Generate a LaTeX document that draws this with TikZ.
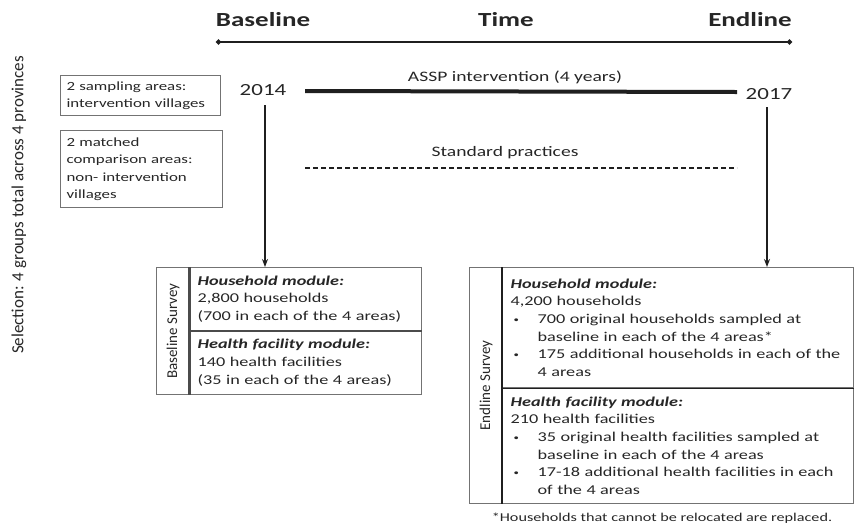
\documentclass[tikz,border=0pt]{standalone}
\usepackage{fontspec}
\setmainfont{Carlito}[FakeStretch=1.35]
\newfontfamily\rotfont{Carlito}
\usetikzlibrary{arrows.meta,calc}
\definecolor{txt}{gray}{0.15}
\definecolor{boxcol}{gray}{0.45}
\definecolor{linecol}{gray}{0.12}
\newcommand\bul{\makebox[27pt][l]{\hspace{3pt}\raisebox{1pt}{\fontsize{8}{8}\selectfont\textbullet}}}
\newcommand\ind{\hspace*{27pt}}
\begin{document}
\begin{tikzpicture}[x=1pt,y=-1pt,
  hdr/.style={font=\fontsize{20}{22}\selectfont\bfseries, text=txt},
  yearlab/.style={font=\fontsize{17}{19}\selectfont, text=txt},
  midlab/.style={font=\fontsize{14.5}{17}\selectfont, text=txt},
  areabox/.style={draw=boxcol, line width=1.2pt, anchor=north west, align=left,
    inner xsep=6pt, inner ysep=0pt, text width=#1, font=\fontsize{12.5}{17.5}\selectfont, text=txt},
  survlab/.style={draw=boxcol, line width=1.2pt, inner sep=0pt, minimum width=#1},
  survtxt/.style={rotate=90, font=\rotfont\fontsize{15}{17}\selectfont, text=txt},
  content/.style={draw=boxcol, line width=1.2pt, anchor=north west, align=left,
    inner xsep=8pt, inner ysep=0pt, font=\fontsize{13.5}{17.7}\selectfont, text=txt},
  arr/.style={-{Stealth[length=8pt,width=6pt]}, line width=1.6pt, draw=linecol},
  tline/.style={{Circle[length=5pt]}-{Circle[length=5pt]}, line width=2pt, draw=linecol}
]
\useasboundingbox (0,0) rectangle (856,531);

% headers and timeline
\node[hdr] (bl) at (263,20) {Baseline};
\node[hdr] (tm) at (506,20) {Time};
\node[hdr] (el) at (750,20) {Endline};
\coordinate (tl) at (216,42);
\coordinate (tr) at (792,42);
\draw[tline] (tl) -- (tr);

% rotated selection label
\node[rotate=90, font=\rotfont\fontsize{17}{19}\selectfont, text=txt] (sel) at (19,205)
  {Selection: 4 groups total across 4 provinces};

% area boxes
\node[areabox=148pt, minimum height=40pt] (a1) at (60,75)
  {2 sampling areas:\\intervention villages};
\node[areabox=150pt, minimum height=77pt] (a2) at (60,130)
  {2 matched\\comparison areas:\\non- intervention\\villages};

% years and intervention lines
\node[yearlab] (y14) at (263,90) {2014};
\node[yearlab] (y17) at (769,94) {2017};
\coordinate (ia) at (305,91);
\coordinate (ib) at (737,92);
\draw[line width=4pt, draw=linecol] (ia) -- (ib);
\node[midlab] (assp) at (515,77) {ASSP intervention (4 years)};
\node[midlab] (std) at (505,153) {Standard practices};
\coordinate (sa) at (305,168);
\coordinate (sb) at (737,168);
\draw[line width=1.6pt, draw=linecol, dash pattern=on 5pt off 3pt] (sa) -- (sb);

% baseline survey box
\node[survlab=33pt, minimum height=127pt, anchor=north west] (blab) at (156,267) {};
\node[survtxt] (bltxt) at (blab.center) {Baseline Survey};
\node[content, text width=216pt, minimum height=63pt] (bhh) at (189,267)
  {\textbf{\textit{Household module:}}\\2,800 households\\(700 in each of the 4 areas)};
\node[content, text width=216pt, minimum height=64pt] (bhf) at (189,330)
  {\textbf{\textit{Health facility module:}}\\140 health facilities\\(35 in each of the 4 areas)};
\draw[line width=3pt, draw=linecol!80] (bhh.north west) -- (bhf.south west);
\draw[line width=2.5pt, draw=linecol!80] (bhh.south west) -- (bhh.south east);

% endline survey box
\node[survlab=33pt, minimum height=236pt, anchor=north west] (elab) at (469,267) {};
\node[survtxt] (eltxt) at (elab.center) {Endline Survey};
\node[content, text width=335pt, minimum height=120pt] (ehh) at (502,267)
  {\textbf{\textit{Household module:}}\\4,200 households\\
   \bul 700 original households sampled at\\\ind baseline in each of the 4 areas*\\
   \bul 175 additional households in each of the\\\ind 4 areas};
\node[content, text width=335pt, minimum height=116pt] (ehf) at (502,387)
  {\textbf{\textit{Health facility module:}}\\210 health facilities\\
   \bul 35 original health facilities sampled at\\\ind baseline in each of the 4 areas\\
   \bul 17-18 additional health facilities in each\\\ind of the 4 areas};
\draw[line width=2pt, draw=linecol] (ehh.north west) -- (ehf.south west);
\draw[line width=1.4pt, draw=linecol] (ehh.south west) -- (ehh.south east);

% arrows
\draw[arr] ([xshift=2pt,yshift=-6pt]y14.south) -- ([xshift=2pt]y14.south |- bhh.north);
\draw[arr] ([xshift=-2pt,yshift=-4pt]y17.south) -- ([xshift=-2pt]y17.south |- ehh.north);

% footnote
\node[font=\fontsize{12}{14}\selectfont, text=txt] (fn) at (662,518)
  {*Households that cannot be relocated are replaced.};
\end{tikzpicture}
\end{document}
